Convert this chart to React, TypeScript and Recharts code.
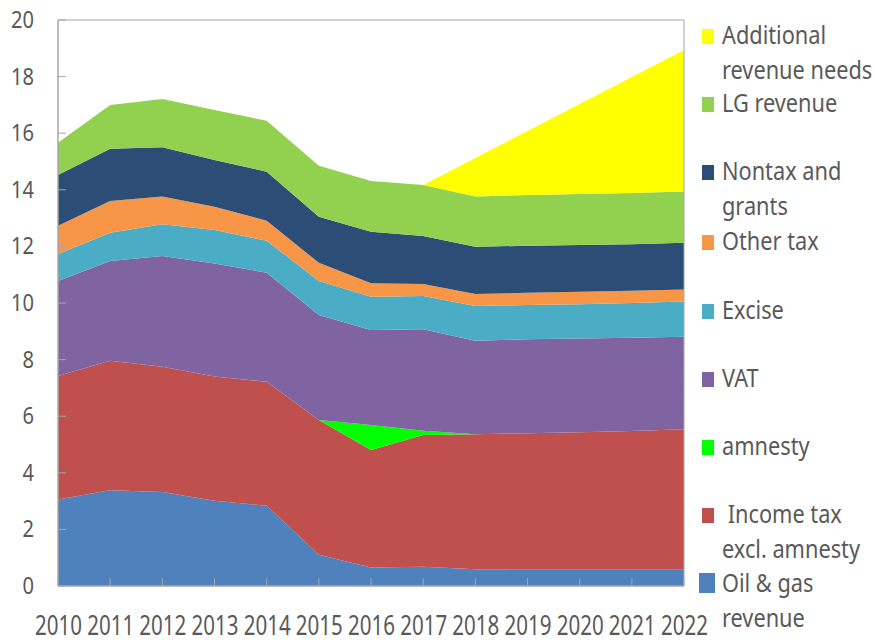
import { AreaChart, Area, XAxis, YAxis, ReferenceArea } from 'recharts'

const years = ['2010', '2011', '2012', '2013', '2014', '2015', '2016', '2017', '2018', '2019', '2020', '2021', '2022']

const oilGas = [3.06, 3.38, 3.32, 3.01, 2.84, 1.1, 0.65, 0.68, 0.59, 0.57, 0.57, 0.57, 0.57]
const incomeTax = [4.36, 4.58, 4.43, 4.39, 4.38, 4.77, 4.16, 4.66, 4.77, 4.83, 4.86, 4.91, 4.97]
const amnesty = [0, 0, 0, 0, 0, 0, 0.88, 0.15, 0, 0, 0, 0, 0]
const vat = [3.36, 3.52, 3.91, 4.0, 3.85, 3.71, 3.36, 3.58, 3.31, 3.32, 3.32, 3.29, 3.27]
const excise = [0.95, 1.0, 1.12, 1.18, 1.13, 1.2, 1.17, 1.18, 1.22, 1.21, 1.21, 1.23, 1.24]
const otherTax = [1.0, 1.12, 0.98, 0.82, 0.71, 0.64, 0.48, 0.42, 0.43, 0.43, 0.44, 0.43, 0.43]
const nontax = [1.79, 1.85, 1.74, 1.65, 1.73, 1.63, 1.82, 1.7, 1.67, 1.66, 1.65, 1.65, 1.65]
const lgRevenue = [1.14, 1.55, 1.71, 1.77, 1.8, 1.8, 1.79, 1.8, 1.77, 1.8, 1.8, 1.81, 1.81]
const additional = [0, 0, 0, 0, 0, 0, 0, 0, 1.36, 2.26, 3.18, 4.1, 5.0]

const yTicks = [0, 2, 4, 6, 8, 10, 12, 14, 16, 18, 20]

// bottom to top stacking order
const series = [
  { key: 'oilGas', color: '#4F81BD', label: ['Oil & gas', 'revenue'] },
  { key: 'incomeTax', color: '#C0504D', label: ['\u00a0Income tax', 'excl. amnesty'] },
  { key: 'amnesty', color: '#00FF00', label: ['amnesty'] },
  { key: 'vat', color: '#8064A2', label: ['VAT'] },
  { key: 'excise', color: '#4BACC6', label: ['Excise'] },
  { key: 'otherTax', color: '#F79646', label: ['Other tax'] },
  { key: 'nontax', color: '#2C4D75', label: ['Nontax and', 'grants'] },
  { key: 'lgRevenue', color: '#92D050', label: ['LG revenue'] },
  { key: 'additional', color: '#FFFF00', label: ['Additional', 'revenue needs'] }
]

const data = years.map((year, i) => ({
  year,
  oilGas: oilGas[i],
  incomeTax: incomeTax[i],
  amnesty: amnesty[i],
  vat: vat[i],
  excise: excise[i],
  otherTax: otherTax[i],
  nontax: nontax[i],
  lgRevenue: lgRevenue[i],
  additional: additional[i]
}))

const FONT = '"Noto Sans", "Open Sans", sans-serif'
const AXIS = '#A6A6A6'
const TEXT = '#595959'

const YTick = ({ x, y, payload }: any) => {
  const s = String(payload.value)
  return (
    <g>
      <line x1={x} y1={y} x2={x + 8} y2={y} stroke={AXIS} />
      <text
        x={x - 24}
        y={y + 8}
        textAnchor="end"
        fontSize={23}
        fill={TEXT}
        fontFamily={FONT}
        textLength={s.length * 11.5}
        lengthAdjust="spacingAndGlyphs"
      >
        {s}
      </text>
    </g>
  )
}

const XTick = ({ x, y, payload }: any) => (
  <g>
    <line x1={x} y1={y} x2={x} y2={y - 8} stroke={AXIS} />
    <text
      x={x - 23}
      y={y + 49}
      fontSize={27}
      fill={TEXT}
      fontFamily={FONT}
      textLength={47}
      lengthAdjust="spacingAndGlyphs"
    >
      {payload.value}
    </text>
  </g>
)

// first-line baselines of the legend entries, top to bottom
const legendBaselines = [44, 112, 180, 250, 319, 387, 455, 523, 592]

const App = () => {
  const legendItems = [...series].reverse()
  return (
    <div style={{ position: 'absolute', left: 0, top: 0, width: 875, height: 642, background: '#fff' }}>
      <AreaChart width={875} height={642} data={data} margin={{ top: 20, right: 191, bottom: 0, left: 0 }}>
        <XAxis
          dataKey="year"
          interval={0}
          height={56}
          tickSize={0}
          tickMargin={0}
          tickLine={false}
          axisLine={{ stroke: AXIS }}
          tick={<XTick />}
        />
        <YAxis
          type="number"
          domain={[0, 20]}
          ticks={yTicks}
          width={58}
          tickSize={0}
          tickMargin={0}
          tickLine={false}
          axisLine={{ stroke: AXIS }}
          tick={<YTick />}
        />
        {series.map((s) => (
          <Area
            key={s.key}
            dataKey={s.key}
            stackId="1"
            type="linear"
            fill={s.color}
            fillOpacity={1}
            stroke="none"
            dot={false}
            activeDot={false}
            isAnimationActive={false}
          />
        ))}
        <ReferenceArea x1="2010" x2="2022" y1={0} y2={20} fill="none" stroke={AXIS} ifOverflow="visible" />
      </AreaChart>
      <svg width={875} height={642} style={{ position: 'absolute', left: 0, top: 0, pointerEvents: 'none' }}>
        {legendItems.map((s, i) => {
          const b = legendBaselines[i]
          const big = s.key === 'oilGas'
          return (
            <g key={s.key}>
              <rect
                x={big ? 699 : 702}
                y={big ? b - 19 : b - 15}
                width={big ? 16 : 12}
                height={big ? 20 : 15}
                fill={s.color}
              />
              {s.label.map((line, j) => (
                <text
                  key={j}
                  transform={`translate(722 ${b + j * 35}) scale(0.87 1)`}
                  fontSize={25}
                  fill={TEXT}
                  fontFamily={FONT}
                  style={{ whiteSpace: 'pre' }}
                >
                  {line}
                </text>
              ))}
            </g>
          )
        })}
      </svg>
    </div>
  )
}

export default App
